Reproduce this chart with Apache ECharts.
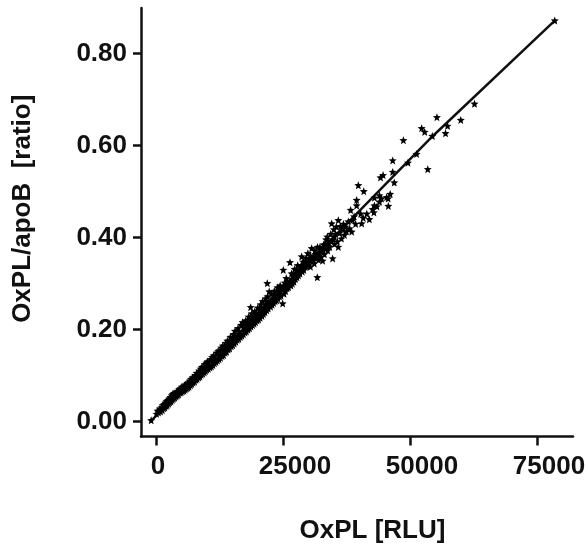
<!DOCTYPE html>
<html>
<head>
<meta charset="utf-8">
<style>
  html, body { margin: 0; padding: 0; background: #fff; }
  #main { width: 588px; height: 548px; }
</style>
<script src="https://cdn.jsdelivr.net/npm/echarts@6/dist/echarts.min.js"></script>
</head>
<body>
<div id="main"></div>
<script>
// values: [OxPL RLU, OxPL/apoB ratio]
var xTicks = [0, 25000, 50000, 75000]
var yTicks = [0, 0.2, 0.4, 0.6, 0.8]
var xTitle = 'OxPL [RLU]'
var yTitle = 'OxPL/apoB  [ratio]'

var fitLine = [[-900, 0.003], [3400, 0.048], [17100, 0.2], [36200, 0.415], [54400, 0.62], [78500, 0.872]]

var lowBand = [
  [-950, 0.003], [100, 0.017], [300, 0.024], [500, 0.02], [750, 0.028], [900, 0.022], [1100, 0.031], [1250, 0.025], [1350, 0.036],
  [1500, 0.029], [1600, 0.038], [1750, 0.031], [1850, 0.041], [2000, 0.034], [2100, 0.045], [2200, 0.036], [2350, 0.047],
  [2500, 0.039], [2600, 0.05], [2700, 0.042], [2850, 0.053], [2950, 0.044], [3100, 0.057], [3200, 0.047], [3300, 0.06],
  [3450, 0.05], [3550, 0.062], [3700, 0.052], [3800, 0.059], [3950, 0.055], [4050, 0.065], [4200, 0.057], [4300, 0.067],
  [4450, 0.059], [4550, 0.07], [4700, 0.063], [4800, 0.072], [4950, 0.064], [5100, 0.076], [5200, 0.066], [5350, 0.071],
  [5500, 0.067], [5600, 0.079], [5750, 0.07], [5850, 0.081], [6000, 0.072], [6150, 0.084], [6250, 0.074], [6400, 0.08],
  [6500, 0.076], [6650, 0.089], [6800, 0.079], [6900, 0.093], [7050, 0.082], [7200, 0.096], [7300, 0.085], [7450, 0.09],
  [7600, 0.087], [7700, 0.101], [7850, 0.091], [8000, 0.106], [8100, 0.093], [8250, 0.1], [8400, 0.096], [8500, 0.111],
  [8650, 0.098], [8800, 0.115], [8900, 0.102], [9050, 0.119], [9200, 0.104], [9350, 0.112], [9500, 0.107], [9600, 0.125],
  [9750, 0.11], [9900, 0.128], [10000, 0.113], [10200, 0.131], [10300, 0.115], [10450, 0.124], [10600, 0.118], [10750, 0.136],
  [10900, 0.12], [11050, 0.14], [11200, 0.123], [11350, 0.144], [11500, 0.127], [11650, 0.137], [11800, 0.13], [11950, 0.15]
]

var midBand = [
  [12100, 0.133], [12250, 0.154], [12400, 0.136], [12550, 0.146], [12700, 0.139], [12850, 0.161], [13000, 0.143], [13150, 0.165],
  [13300, 0.145], [13450, 0.155], [13600, 0.15], [13750, 0.171], [13900, 0.152], [14050, 0.176], [14200, 0.157], [14350, 0.166],
  [14500, 0.159], [14650, 0.184], [14800, 0.164], [14950, 0.176], [15100, 0.166], [15250, 0.19], [15400, 0.17], [15550, 0.197],
  [15700, 0.174], [15850, 0.185], [16000, 0.178], [16150, 0.203], [16300, 0.18], [16450, 0.19], [16600, 0.184], [16750, 0.21],
  [16900, 0.187], [17050, 0.216], [17200, 0.19], [17350, 0.203], [17500, 0.194], [17650, 0.22], [17800, 0.196], [17950, 0.208],
  [18100, 0.2], [18250, 0.228], [18400, 0.203], [18550, 0.214], [18640, 0.249], [18700, 0.207], [18850, 0.235], [19000, 0.21], [19150, 0.222],
  [19300, 0.213], [19450, 0.24], [19600, 0.216], [19750, 0.229], [19900, 0.22], [20050, 0.248], [20200, 0.222], [20350, 0.236],
  [20500, 0.226], [20600, 0.255], [20700, 0.242], [20850, 0.23], [21000, 0.262], [21150, 0.234], [21300, 0.25], [21450, 0.238],
  [21600, 0.268], [21700, 0.254], [21800, 0.242], [21910, 0.301], [21950, 0.272], [22100, 0.246], [22300, 0.283], [22400, 0.26],
  [22550, 0.25], [22700, 0.278], [22850, 0.254], [23000, 0.268], [23150, 0.258], [23300, 0.284], [23450, 0.262], [23600, 0.276],
  [23750, 0.264], [23900, 0.292], [24000, 0.268], [24150, 0.282], [24300, 0.272], [24450, 0.296], [24600, 0.274], [24750, 0.288],
  [24940, 0.257], [25060, 0.33], [25200, 0.278], [25350, 0.302], [25500, 0.284], [25650, 0.312], [25800, 0.29], [25950, 0.298],
  [26100, 0.292], [26380, 0.3465], [26400, 0.306], [26550, 0.296], [26700, 0.322], [26850, 0.3], [27000, 0.316], [27150, 0.304],
  [27300, 0.332], [27450, 0.31], [27600, 0.324], [27750, 0.314], [27900, 0.34], [28050, 0.318], [28200, 0.33], [28350, 0.322],
  [28680, 0.359], [28650, 0.336], [28800, 0.326], [28950, 0.348], [29100, 0.33], [29250, 0.342], [29400, 0.336], [29550, 0.356], [29700, 0.338]
]

var upperBand = [
  [29900, 0.366], [30050, 0.342], [30200, 0.352], [30400, 0.337], [30650, 0.377], [30800, 0.348], [31000, 0.36], [31150, 0.344],
  [31300, 0.372], [31500, 0.355], [31760, 0.314], [31800, 0.38], [32000, 0.352], [32150, 0.366], [32280, 0.38], [32500, 0.358],
  [32650, 0.374], [32800, 0.35], [33000, 0.385], [33150, 0.364], [33350, 0.376], [33500, 0.396], [33720, 0.402], [33800, 0.372],
  [34000, 0.39], [34200, 0.38], [34400, 0.408], [34580, 0.431], [34780, 0.355], [34800, 0.396], [35000, 0.418], [35150, 0.386],
  [35350, 0.408], [35500, 0.424], [35700, 0.392], [35890, 0.438], [35890, 0.38], [36100, 0.41], [36300, 0.425], [36500, 0.398],
  [36700, 0.418], [36900, 0.43], [37100, 0.406], [37300, 0.424], [37500, 0.414], [37860, 0.435], [38100, 0.42], [38320, 0.46],
  [38520, 0.413], [38700, 0.438], [39000, 0.446], [39300, 0.43], [39500, 0.482], [39830, 0.514], [40300, 0.452], [40490, 0.431]
]

var bandFill = [
  [6100, 0.078], [7150, 0.09], [8350, 0.105], [9400, 0.117], [10400, 0.121], [11450, 0.134], [12500, 0.151], [13500, 0.161],
  [14550, 0.171], [15450, 0.182], [16350, 0.197], [17250, 0.212], [17900, 0.215], [18500, 0.222], [19050, 0.23], [19550, 0.232],
  [20100, 0.235], [20650, 0.246], [21250, 0.243], [21750, 0.262], [22200, 0.257], [22650, 0.263], [23100, 0.276], [23550, 0.268],
  [24050, 0.278], [24500, 0.284], [25000, 0.292], [25450, 0.294], [25900, 0.306], [26350, 0.3], [26800, 0.31], [27250, 0.316],
  [27700, 0.328], [28150, 0.324], [28600, 0.34], [29050, 0.338], [29500, 0.346], [29950, 0.352], [30450, 0.36], [30950, 0.352],
  [31400, 0.364], [31900, 0.366], [32400, 0.37], [32900, 0.378], [33400, 0.386], [33900, 0.382], [34500, 0.392], [35100, 0.402]
]

var outliers = [
  [78500, 0.872], [62700, 0.691], [60000, 0.656], [57400, 0.643], [57000, 0.627], [55300, 0.662], [54400, 0.621], [52300, 0.638],
  [52900, 0.63], [53500, 0.549], [51300, 0.582], [48700, 0.612], [49600, 0.563], [46600, 0.568], [46600, 0.543], [46900, 0.52],
  [44700, 0.536], [44200, 0.531], [40900, 0.501], [44000, 0.492], [43000, 0.487], [46100, 0.495], [45700, 0.485],
  [45400, 0.488], [44400, 0.485], [44000, 0.478], [39500, 0.47], [42650, 0.462], [43000, 0.47],
  [42900, 0.455], [45740, 0.469], [40800, 0.443], [41500, 0.452], [42000, 0.44], [43500, 0.468]
]

var scatterData = lowBand.concat(midBand, upperBand, bandFill, outliers)

var starPath = 'path://M50 0 L63 33 L100 36 L72 59 L81 95 L50 76 L19 95 L28 59 L0 36 L37 33 Z'
var labelFont = { fontFamily: 'Liberation Sans', fontWeight: 'bold', fontSize: 26, color: '#111' }

var myChart = echarts.init(document.getElementById('main'))
var option = {
  animation: false,
  backgroundColor: '#fff',
  grid: { left: 141, top: 8, width: 432, height: 428.5, outerBoundsMode: 'none' },
  xAxis: {
    type: 'value',
    min: -2950,
    max: 82090,
    name: xTitle,
    nameLocation: 'middle',
    nameGap: 81,
    nameTextStyle: Object.assign({}, labelFont, { padding: [0, 0, 0, 31] }),
    splitLine: { show: false },
    axisLine: { show: true, onZero: false, lineStyle: { color: '#111', width: 2.5 } },
    axisTick: { show: true, length: 9, customValues: xTicks, lineStyle: { color: '#111', width: 2.5 } },
    axisLabel: {
      customValues: xTicks,
      margin: 17,
      showMinLabel: true,
      showMaxLabel: true,
      formatter: function (value) {
        // labels sit a bit right of their ticks in the original
        return value === 0 ? '{z|0}' : '{n|' + value + '}'
      },
      rich: {
        z: Object.assign({}, labelFont, { padding: [0, 0, 0, 4] }),
        n: Object.assign({}, labelFont, { padding: [0, 0, 0, 24] })
      }
    }
  },
  yAxis: {
    type: 'value',
    min: -0.0322,
    max: 0.8993,
    name: yTitle,
    nameLocation: 'middle',
    nameGap: 105,
    nameTextStyle: Object.assign({}, labelFont, { padding: [0, 0, 0, 27] }),
    splitLine: { show: false },
    axisLine: { show: true, onZero: false, lineStyle: { color: '#111', width: 2.5 } },
    axisTick: { show: true, length: 8, customValues: yTicks, lineStyle: { color: '#111', width: 2.5 } },
    axisLabel: Object.assign({}, labelFont, {
      customValues: yTicks,
      margin: 14,
      formatter: function (value) { return value.toFixed(2) }
    })
  },
  series: [
    {
      name: 'fit',
      type: 'line',
      data: fitLine,
      showSymbol: false,
      smooth: false,
      lineStyle: { color: '#111', width: 2.5 },
      z: 2
    },
    {
      name: 'OxPL',
      type: 'scatter',
      data: scatterData,
      symbol: starPath,
      symbolSize: 8,
      itemStyle: { color: '#000', opacity: 1 },
      z: 3
    }
  ]
}
myChart.setOption(option)
</script>
</body>
</html>
